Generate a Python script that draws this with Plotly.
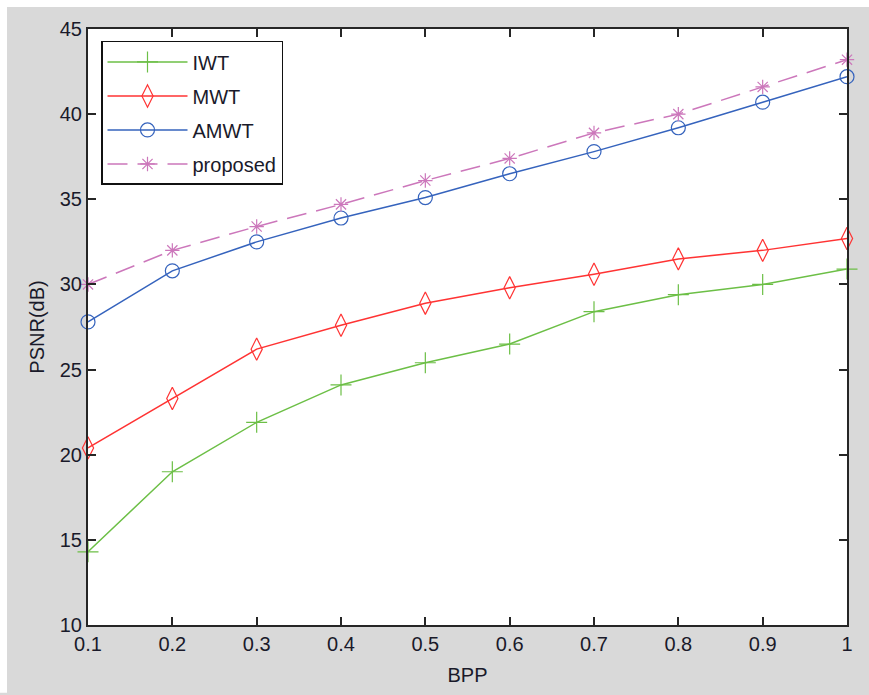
import plotly.graph_objects as go

# PSNR (dB) versus bit rate (bits per pixel) for four transform codecs
bpp = [0.1, 0.2, 0.3, 0.4, 0.5, 0.6, 0.7, 0.8, 0.9, 1.0]
x_tick_labels = ["0.1", "0.2", "0.3", "0.4", "0.5", "0.6", "0.7", "0.8", "0.9", "1"]
y_ticks = [10, 15, 20, 25, 30, 35, 40, 45]

psnr_iwt = [14.3, 19.0, 21.9, 24.1, 25.4, 26.5, 28.4, 29.4, 30.0, 30.9]
psnr_mwt = [20.4, 23.3, 26.2, 27.6, 28.9, 29.8, 30.6, 31.5, 32.0, 32.7]
psnr_amwt = [27.8, 30.8, 32.5, 33.9, 35.1, 36.5, 37.8, 39.2, 40.7, 42.2]
psnr_proposed = [30.0, 32.0, 33.4, 34.7, 36.1, 37.4, 38.9, 40.0, 41.6, 43.2]

FONT = "Liberation Sans, Arial, sans-serif"
TEXT = "#1a1a2a"
AXIS = "#262626"
W, H = 869, 695
ML, MR, MT, MB = 88, 22, 29, 68

series = [
    ("IWT", psnr_iwt, "#6cbf46", "cross-thin-open", 15, "solid"),
    ("MWT", psnr_mwt, "#ff3333", "diamond-tall-open", 16, "solid"),
    ("AMWT", psnr_amwt, "#3563bd", "circle-open", 14, "solid"),
    ("proposed", psnr_proposed, "#cc77bb", "asterisk-open", 12, "20px,10px"),
]

fig = go.Figure()
for name, vals, color, symbol, size, dash in series:
    fig.add_trace(go.Scatter(
        x=bpp, y=vals, name=name, mode="lines+markers",
        legendgroup=name,
        line=dict(color=color, width=1.5, dash=dash),
        marker=dict(symbol=symbol, size=size, color=color,
                    line=dict(color=color, width=1.2)),
        cliponaxis=False,
    ))

axis_common = dict(
    showline=True, linecolor=AXIS, linewidth=2, mirror="ticks",
    ticks="inside", ticklen=8, tickwidth=1.5, tickcolor=AXIS,
    showgrid=False, zeroline=False,
    tickfont=dict(family=FONT, size=20, color=TEXT),
)

fig.update_xaxes(
    range=[0.1, 1.0], tickvals=bpp, ticktext=x_tick_labels,
    title=dict(text="BPP", font=dict(family=FONT, size=20, color=TEXT), standoff=14),
    **axis_common,
)
fig.update_yaxes(
    range=[10, 45], tickvals=y_ticks,
    title=dict(text="PSNR(dB)", font=dict(family=FONT, size=20, color=TEXT), standoff=10),
    **axis_common,
)

pw = W - ML - MR
ph = H - MT - MB


def px_x(p):
    return (p - ML) / pw


def px_y(p):
    return 1 - (p - MT) / ph


# thin white frame along the top and left edges of the figure window
fig.add_shape(type="rect", xref="paper", yref="paper", layer="above",
              x0=px_x(0), x1=px_x(W), y0=px_y(7), y1=px_y(0),
              fillcolor="white", line=dict(width=0))
fig.add_shape(type="rect", xref="paper", yref="paper", layer="above",
              x0=px_x(0), x1=px_x(7), y0=px_y(H), y1=px_y(0),
              fillcolor="white", line=dict(width=0))

fig.update_layout(
    width=W, height=H,
    margin=dict(l=ML, r=MR, t=MT, b=MB),
    paper_bgcolor="#d9d9d9",
    plot_bgcolor="white",
    showlegend=True,
    legend=dict(
        x=px_x(101), y=px_y(41), xanchor="left", yanchor="top",
        bgcolor="white", bordercolor="#111111", borderwidth=1.5,
        font=dict(family=FONT, size=20, color=TEXT),
        itemwidth=80, tracegroupgap=5,
    ),
)

fig.write_html("out.html")
